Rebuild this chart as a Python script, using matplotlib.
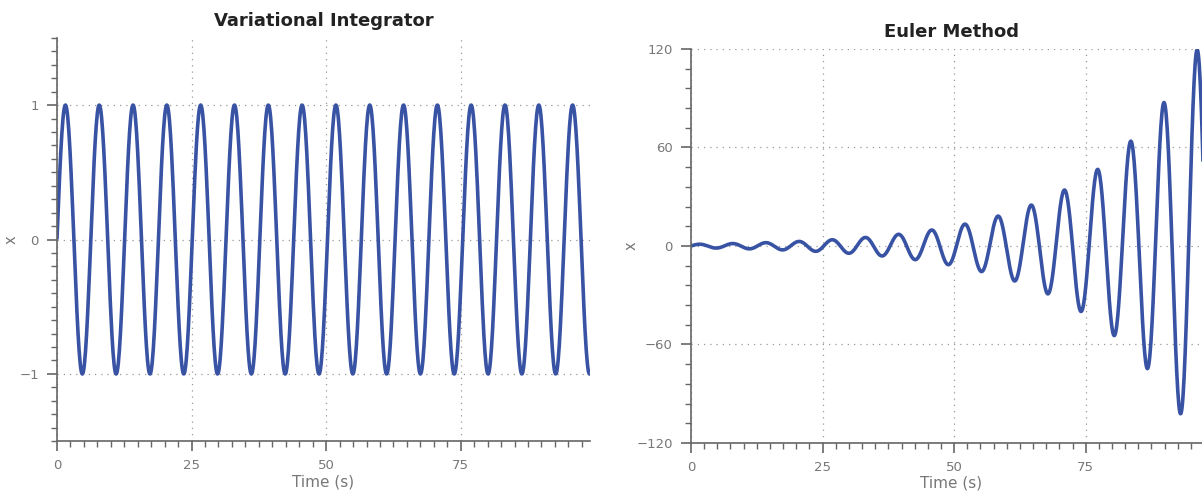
import numpy
import matplotlib
matplotlib.use('Agg')
import matplotlib.pyplot as plt
from matplotlib.ticker import MultipleLocator

# simulation settings for the unit harmonic oscillator x'' = -x
step = 0.1
n_steps = 990
x_start = 0.0
v_start = 1.0

titles = ['Variational Integrator', 'Euler Method']
xlabel = 'Time (s)'
ylabel = 'x'
xticks = [0, 25, 50, 75]
yticks_var = [-1, 0, 1]
yticks_euler = [-120, -60, 0, 60, 120]

line_color = '#3953a4'
axis_color = '#666666'


def variational(h, n, x0, v0):
    """Symplectic (variational) Euler steps"""
    x = numpy.zeros(n + 1)
    v = numpy.zeros(n + 1)
    x[0], v[0] = x0, v0
    for i in range(n):
        v[i + 1] = v[i] - h * x[i]
        x[i + 1] = x[i] + h * v[i + 1]
    return x


def euler(h, n, x0, v0):
    """Explicit Euler steps"""
    x = numpy.zeros(n + 1)
    v = numpy.zeros(n + 1)
    x[0], v[0] = x0, v0
    for i in range(n):
        x[i + 1] = x[i] + h * v[i]
        v[i + 1] = v[i] - h * x[i]
    return x


def style_axes(ax, yticks, yminor, ylim, xlim, ylabel_x):
    """Left/bottom spines, outward ticks, dotted grid at the majors."""
    for side in ['top', 'right']:
        ax.spines[side].set_visible(False)
    for side in ['left', 'bottom']:
        ax.spines[side].set_color(axis_color)
        ax.spines[side].set_linewidth(1.2)
    ax.set_xlim(xlim)
    ax.set_ylim(ylim)
    ax.set_xticks(xticks)
    ax.set_yticks(yticks)
    ax.xaxis.set_minor_locator(MultipleLocator(2.5))
    ax.yaxis.set_minor_locator(MultipleLocator(yminor))
    ax.tick_params(which='major', length=7, width=1.2, color=axis_color,
                   labelcolor='#777777', labelsize=9.5, pad=6)
    ax.tick_params(which='minor', length=4, width=1.0, color=axis_color)
    ax.grid(True, which='major', linestyle=(0, (1, 4)), color='#999999',
            linewidth=0.9)
    ax.set_axisbelow(True)
    ax.set_xlabel(xlabel, fontsize=11, color='#777777')
    ax.set_ylabel(ylabel, fontsize=10.5, color='#777777')
    ax.xaxis.set_label_coords(0.5, -0.083)
    ax.yaxis.set_label_coords(ylabel_x, 0.5)


def main():
    t = numpy.arange(n_steps + 1) * step
    x_var = variational(step, n_steps, x_start, v_start)
    x_eul = euler(step, n_steps, x_start, v_start)

    fig = plt.figure(figsize=[12.02, 4.91], dpi=100)
    ax1 = fig.add_axes([0.0474, 0.1018, 0.4434, 0.8208])
    ax2 = fig.add_axes([0.5749, 0.0978, 0.4334, 0.8024])

    ax1.plot(t, x_var, color=line_color, linewidth=2.6, solid_capstyle='butt')
    style_axes(ax1, yticks_var, 0.1, (-1.5, 1.5), (t[0], t[-1]), -0.072)

    ax2.plot(t, x_eul, color=line_color, linewidth=2.6, solid_capstyle='butt')
    style_axes(ax2, yticks_euler, 12, (-120, 120), (t[0], t[-1]), -0.1)

    for ax, title in zip([ax1, ax2], titles):
        ax.set_title(title, fontsize=13, fontweight='bold', color='#222222',
                     pad=9)

    plt.savefig('out.png', dpi=100)


if __name__ == '__main__':
    main()
